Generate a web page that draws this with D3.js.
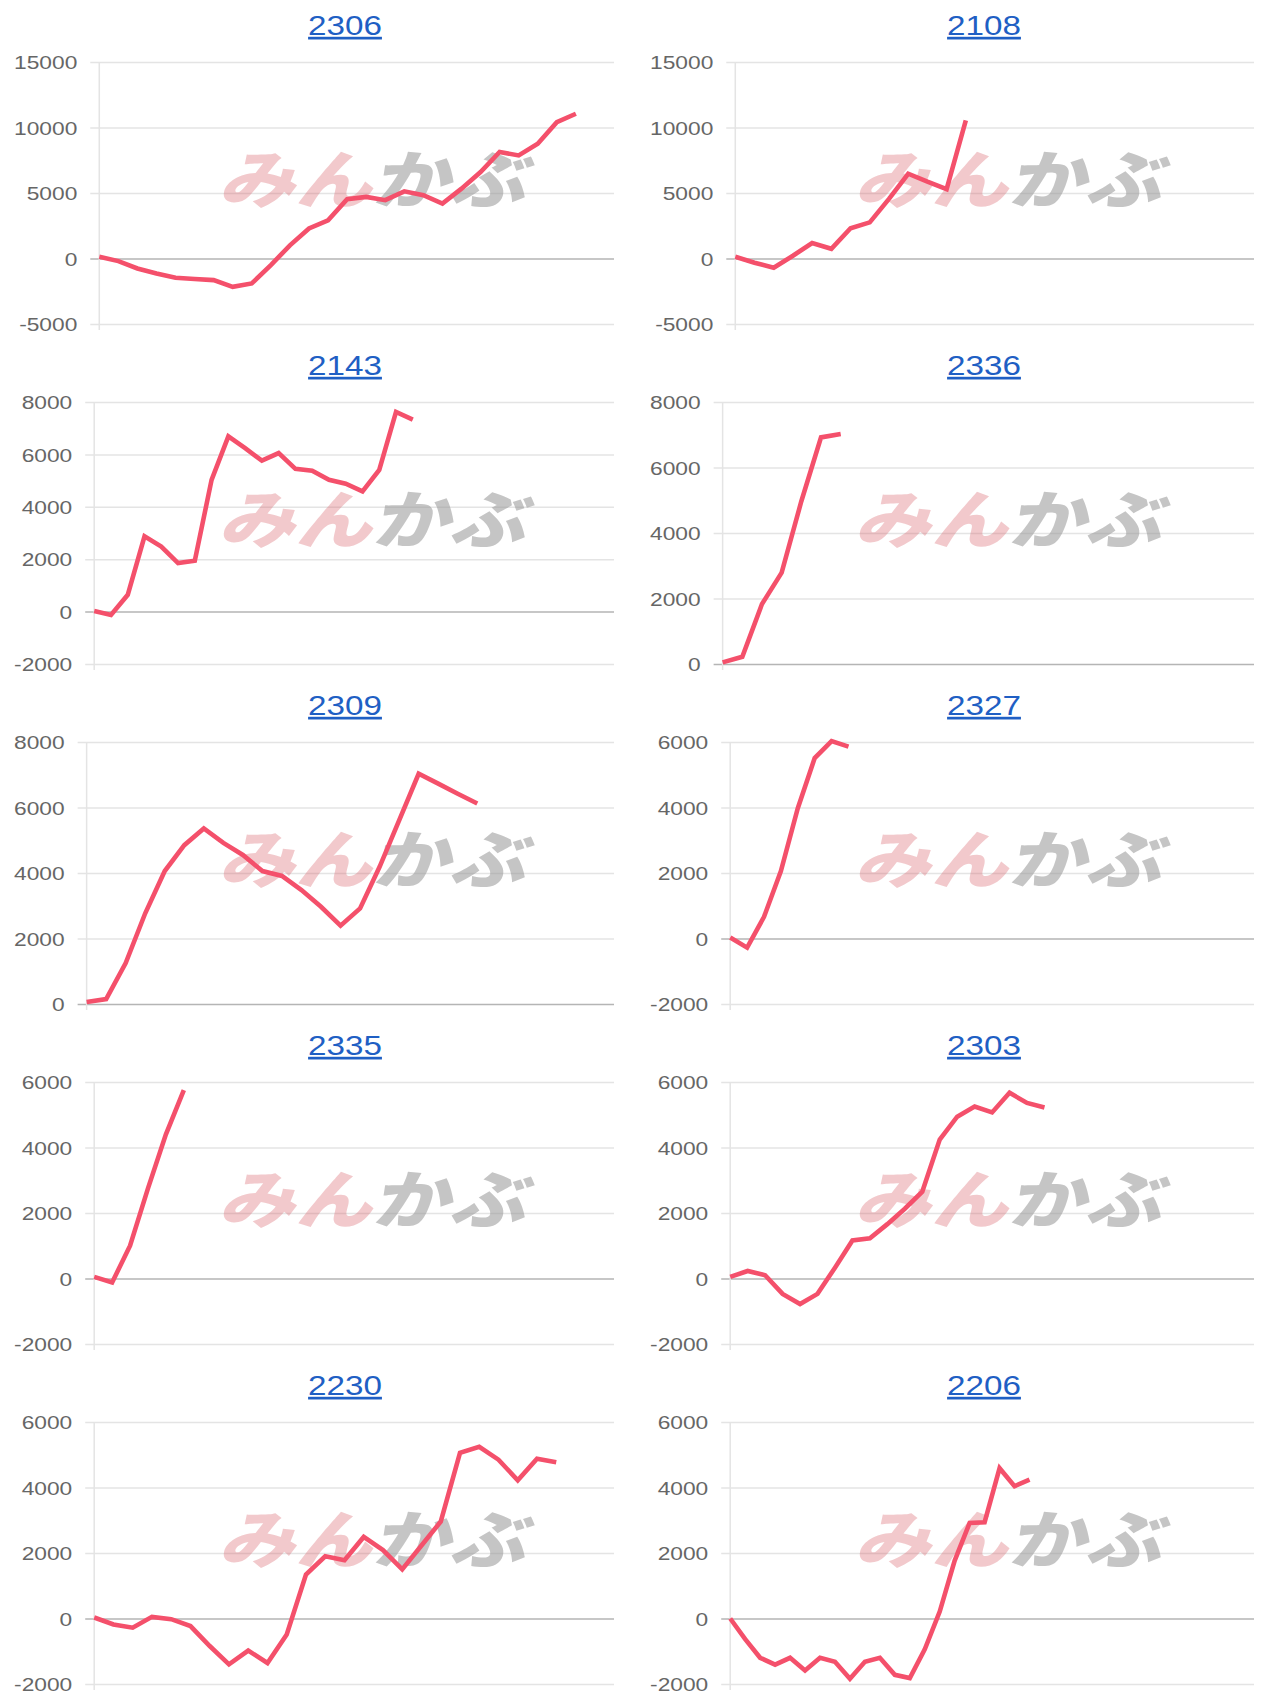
<!DOCTYPE html>
<html><head><meta charset="utf-8">
<script src="https://cdn.jsdelivr.net/npm/d3@7"></script>
<style>body{margin:0;background:#fff;font-family:"Liberation Sans",Arial,sans-serif}</style>
</head><body><svg id="c" width="1272" height="1700"></svg>
<script>
const titles = ["2306","2108","2143","2336","2309","2327","2335","2303","2230","2206"];
const slotCounts = [28,28,32,28,28,32,30,31,28,36];
const yDomains = [[-5000,15000],[-5000,15000],[-2000,8000],[0,8000],[0,8000],[-2000,6000],[-2000,6000],[-2000,6000],[-2000,6000],[-2000,6000]];
const yTicks = [
  [-5000,0,5000,10000,15000],[-5000,0,5000,10000,15000],
  [-2000,0,2000,4000,6000,8000],[0,2000,4000,6000,8000],[0,2000,4000,6000,8000],
  [-2000,0,2000,4000,6000],[-2000,0,2000,4000,6000],[-2000,0,2000,4000,6000],
  [-2000,0,2000,4000,6000],[-2000,0,2000,4000,6000]];
const s2306 = [130,-200,-760,-1140,-1470,-1570,-1650,-2160,-1900,-500,1000,2290,2920,4520,4700,4450,5130,4830,4190,5330,6600,8130,7870,8760,10400,11050];
const s2108 = [130,-320,-710,210,1180,740,2310,2760,4550,6470,5860,5290,10550];
const s2143 = [25,-130,640,2870,2480,1850,1940,5030,6690,6240,5760,6050,5450,5380,5030,4880,4590,5410,7620,7330];
const s2336 = [50,220,1830,2790,4970,6920,7020];
const s2309 = [60,150,1250,2770,4060,4850,5360,4920,4550,4060,3910,3480,2970,2390,2920,4190,5610,7030,6730,6420,6120];
const s2327 = [30,-280,660,2060,3980,5510,6030,5860];
const s2335 = [50,-120,1000,2750,4400,5750];
const s2303 = [50,230,100,-470,-780,-470,330,1160,1230,1660,2130,2650,4240,4940,5250,5070,5670,5360,5220];
const s2230 = [30,-180,-280,50,-20,-230,-840,-1400,-980,-1360,-490,1340,1900,1780,2490,2090,1500,2230,2960,5060,5240,4850,4220,4880,4770];
const s2206 = [0,-630,-1200,-1410,-1200,-1590,-1200,-1320,-1840,-1320,-1200,-1720,-1820,-940,210,1770,2920,2940,4590,4040,4240];
const series = [s2306,s2108,s2143,s2336,s2309,s2327,s2335,s2303,s2230,s2206];

const svg = d3.select("#c");
const fontSize = 18.5, SX = 1.23;
const meas = svg.append("text").attr("font-size",fontSize).attr("font-family","Liberation Sans, Arial");
function tw(t){meas.text(t);return meas.node().getComputedTextLength()*SX;}

titles.forEach((t,i)=>{
  const col=i%2,row=Math.floor(i/2);
  const ox=col*636, oy=row*340;
  const g=svg.append("g").attr("transform",`translate(${ox},${oy})`);
  const labW=d3.max(yTicks[i],v=>tw(String(v)));
  const left=14+labW+22, right=col?618:614, top=62, bottom=324;
  const x=d3.scaleLinear().domain([0,slotCounts[i]-1]).range([left,right]);
  const y=d3.scaleLinear().domain(yDomains[i]).range([bottom,top]);
  const grid=g.append("g").attr("transform",`translate(${left},0)`)
    .call(d3.axisLeft(y).tickValues(yTicks[i]).tickSize(0).tickFormat(d=>String(d)));
  grid.select(".domain").remove();
  grid.selectAll(".tick line").attr("stroke",d=>d===0?"#b5b5b5":"#e4e4e4").attr("stroke-width",1.5).attr("x1",-9).attr("x2",right-left);
  grid.selectAll(".tick text").attr("fill","#666").attr("font-size",fontSize).attr("font-family","Liberation Sans, Arial")
    .attr("x",null).attr("text-anchor","end").attr("dy","0.36em")
    .attr("transform",`translate(-22,0) scale(${SX},1)`);
  g.append("line").attr("x1",left).attr("x2",left).attr("y1",top).attr("y2",bottom+6).attr("stroke","#e4e4e4").attr("stroke-width",1.5);
  const wm=g.append("g").attr("transform",`translate(${372},${203}) scale(1.22,1) skewX(-12)`);
  wm.append("text").text("みん").attr("x",-63).attr("text-anchor","middle").attr("font-size",63).attr("font-weight",900)
    .attr("font-family","Noto Sans CJK JP").attr("fill","rgba(215,90,100,0.33)");
  wm.append("text").text("かぶ").attr("x",63).attr("text-anchor","middle").attr("font-size",63).attr("font-weight",900)
    .attr("font-family","Noto Sans CJK JP").attr("fill","rgba(150,150,150,0.55)");
  g.append("path").datum(series[i]).attr("fill","none").attr("stroke","#f4506b").attr("stroke-width",4.6)
    .attr("stroke-linejoin","miter").attr("d",d3.line().x((d,j)=>x(j)).y(d=>y(d)));
  g.append("text").text(t).attr("text-anchor","middle")
    .attr("transform",`translate(${col?348:345},35) scale(${SX},1)`)
    .attr("font-size",27).attr("fill","#1f5fc4").attr("font-family","Liberation Sans, Arial").attr("text-decoration","underline");
});
meas.remove();
</script></body></html>
